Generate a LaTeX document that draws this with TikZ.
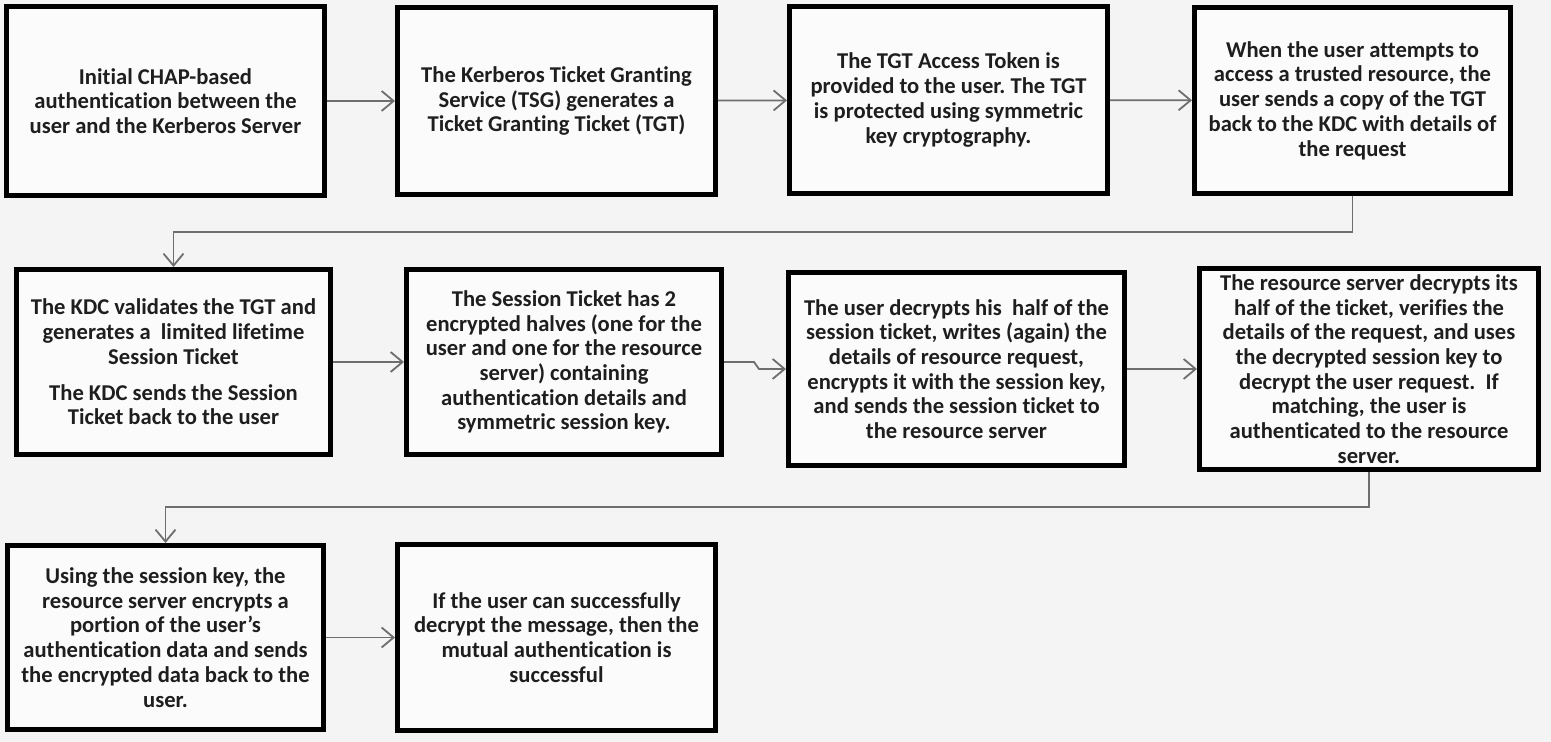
\documentclass[tikz,border=0pt]{standalone}
\usepackage{fontspec}
\setmainfont{Carlito}[Ligatures=NoCommon]
\usepackage{tikz}
\usetikzlibrary{arrows.meta}
\usetikzlibrary{positioning}
\definecolor{paper}{HTML}{F4F4F4}
\definecolor{boxfill}{HTML}{FBFBFB}
\definecolor{linegray}{HTML}{6E6E6E}
\definecolor{ink}{HTML}{1E1E1E}
\frenchspacing

\begin{document}
\begin{tikzpicture}[x=0.5pt,y=-0.5pt,
	flowbox/.style={draw=black,line width=2.5pt,rectangle,fill=boxfill,align=center,text=ink,inner sep=0pt,font=\bfseries\fontsize{11.3}{12.35}\selectfont},
	flowarrow/.style={draw=linegray,line width=0.9pt,-{Straight Barb[length=6pt,width=10pt]}}]
				\fill[paper] (0,0) rectangle (1551,742);
				% first row
				\node[flowbox,minimum width=159pt,minimum height=94.5pt] (CHAP_AUTH) at (165.5,101) {Initial CHAP-based\\authentication between the\\user and the Kerberos Server};
				\node[flowbox,minimum width=159pt,minimum height=93.5pt] (TGS) at (556.5,101) {The Kerberos Ticket Granting\\Service (TSG) generates a\\Ticket Granting Ticket (TGT)};
				\node[flowbox,minimum width=159pt,minimum height=93.5pt] (TGT_TOKEN) at (948.5,100) {The TGT Access Token is\\provided to the user. The TGT\\is protected using symmetric\\key cryptography.};
				\node[flowbox,minimum width=158pt,minimum height=93pt] (TGT_REQUEST) at (1352.5,100.5) {When the user attempts to\\access a trusted resource, the\\user sends a copy of the TGT\\back to the KDC with details of\\the request};
				% second row
				\node[flowbox,minimum width=157pt,minimum height=92.5pt] (KDC_VALIDATE) at (173.5,362) {The KDC validates the TGT and\\generates a\ \ limited lifetime\\Session Ticket\\[5.5pt]The KDC sends the Session\\Ticket back to the user};
				\node[flowbox,minimum width=157.5pt,minimum height=92.5pt] (SESSION_TICKET) at (564,362) {The Session Ticket has 2\\encrypted halves (one for the\\user and one for the resource\\server) containing\\authentication details and\\symmetric session key.};
				\node[flowbox,minimum width=168pt,minimum height=96.5pt] (USER_DECRYPT) at (956.5,369) {The user decrypts his\ \ half of the\\session ticket, writes (again) the\\details of resource request,\\encrypts it with the session key,\\and sends the session ticket to\\the resource server};
				\node[flowbox,minimum width=169.5pt,minimum height=100.5pt] (SERVER_DECRYPT) at (1369,369) {The resource server decrypts its\\half of the ticket, verifies the\\details of the request, and uses\\the decrypted session key to\\decrypt the user request.\ \ If\\matching, the user is\\authenticated to the resource\\server.};
				% third row
				\node[flowbox,minimum width=158pt,minimum height=92pt] (SERVER_ENCRYPT) at (165.5,637.5) {Using the session key, the\\resource server encrypts a\\portion of the user’s\\authentication data and sends\\the encrypted data back to the\\user.};
				\node[flowbox,minimum width=159pt,minimum height=93pt] (MUTUAL_AUTH) at (556.5,637.5) {If the user can successfully\\decrypt the message, then the\\mutual authentication is\\successful};
				\draw[flowarrow] (CHAP_AUTH) -- (TGS);
				\draw[flowarrow] (TGS) -- (TGT_TOKEN);
				\draw[flowarrow] (TGT_TOKEN) -- (TGT_REQUEST);
				\draw[flowarrow] (TGT_REQUEST.south) -- ++(0,36) -| (KDC_VALIDATE.north);
				\draw[flowarrow] (KDC_VALIDATE) -- (SESSION_TICKET);
				\draw[flowarrow] (SESSION_TICKET.east) -- ++(30,0) -- ++(5,7) -- (USER_DECRYPT.west);
				\draw[flowarrow] (USER_DECRYPT) -- (SERVER_DECRYPT);
				\draw[flowarrow] (SERVER_DECRYPT.south) -- ++(0,35) -| (SERVER_ENCRYPT.north);
				\draw[flowarrow] (SERVER_ENCRYPT) -- (MUTUAL_AUTH);
			\end{tikzpicture}
\end{document}
